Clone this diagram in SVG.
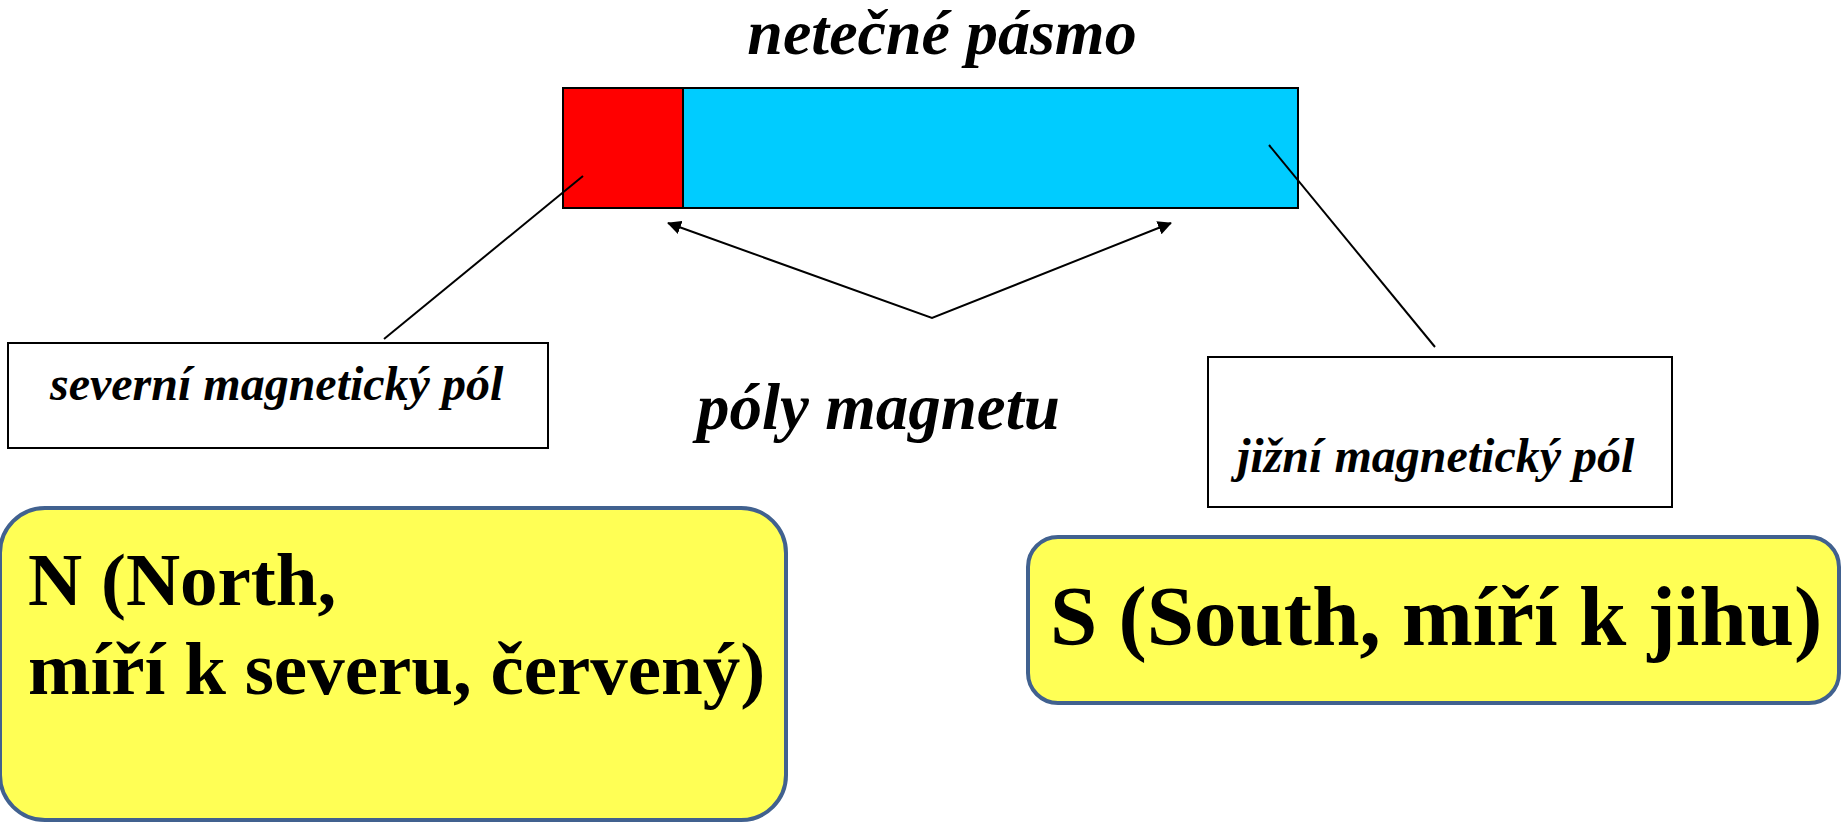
<svg xmlns="http://www.w3.org/2000/svg" width="1843" height="822" viewBox="0 0 1843 822">
<style>
.t{font-family:"Liberation Serif","Times New Roman",serif;font-weight:bold;fill:#000}
.i{font-style:italic}
.lbl{fill:#fff;stroke:#000;stroke-width:2}
.yb{fill:#FFFF55;stroke:#41618F;stroke-width:4}
.ln{stroke:#000;stroke-width:2;fill:none}
</style>
<defs>
<marker id="ah" markerWidth="14" markerHeight="14" refX="13" refY="7" orient="auto-start-reverse" markerUnits="userSpaceOnUse" viewBox="0 0 14 14">
<path d="M0,0 L14,7 L0,14 z" fill="#000"/>
</marker>
</defs>
<rect width="1843" height="822" fill="#fff"/>
<g id="title"><text class="t i" x="942" y="54" font-size="64" text-anchor="middle">netečné pásmo</text></g>
<g id="magnet">
<rect x="563" y="88" width="120" height="120" fill="#FF0000" stroke="#000" stroke-width="2"/>
<rect x="683" y="88" width="615" height="120" fill="#00CCFF" stroke="#000" stroke-width="2"/>
</g>
<g id="connectors">
<line class="ln" x1="583" y1="176" x2="384" y2="339"/>
<line class="ln" x1="1269" y1="145" x2="1435" y2="347"/>
<polyline class="ln" points="668,223 932,318 1171,223" marker-start="url(#ah)" marker-end="url(#ah)"/>
</g>
<g id="north-label">
<rect class="lbl" x="8" y="343" width="540" height="105"/>
<text class="t i" x="50" y="400" font-size="48">severní magnetický pól</text>
</g>
<g id="south-label">
<rect class="lbl" x="1208" y="357" width="464" height="150"/>
<text class="t i" x="1237" y="472" font-size="48">jižní magnetický pól</text>
</g>
<g id="poles"><text class="t i" x="697" y="429" font-size="65">póly magnetu</text></g>
<g id="north-box">
<rect class="yb" x="0" y="508" width="786" height="312" rx="45" ry="45"/>
<text class="t" x="28" y="605" font-size="75">N (North,</text>
<text class="t" x="28" y="694" font-size="75">míří k severu, červený)</text>
</g>
<g id="south-box">
<rect class="yb" x="1028" y="537" width="811" height="166" rx="30" ry="30"/>
<text class="t" x="1050" y="645" font-size="85">S (South, míří k jihu)</text>
</g>
</svg>
